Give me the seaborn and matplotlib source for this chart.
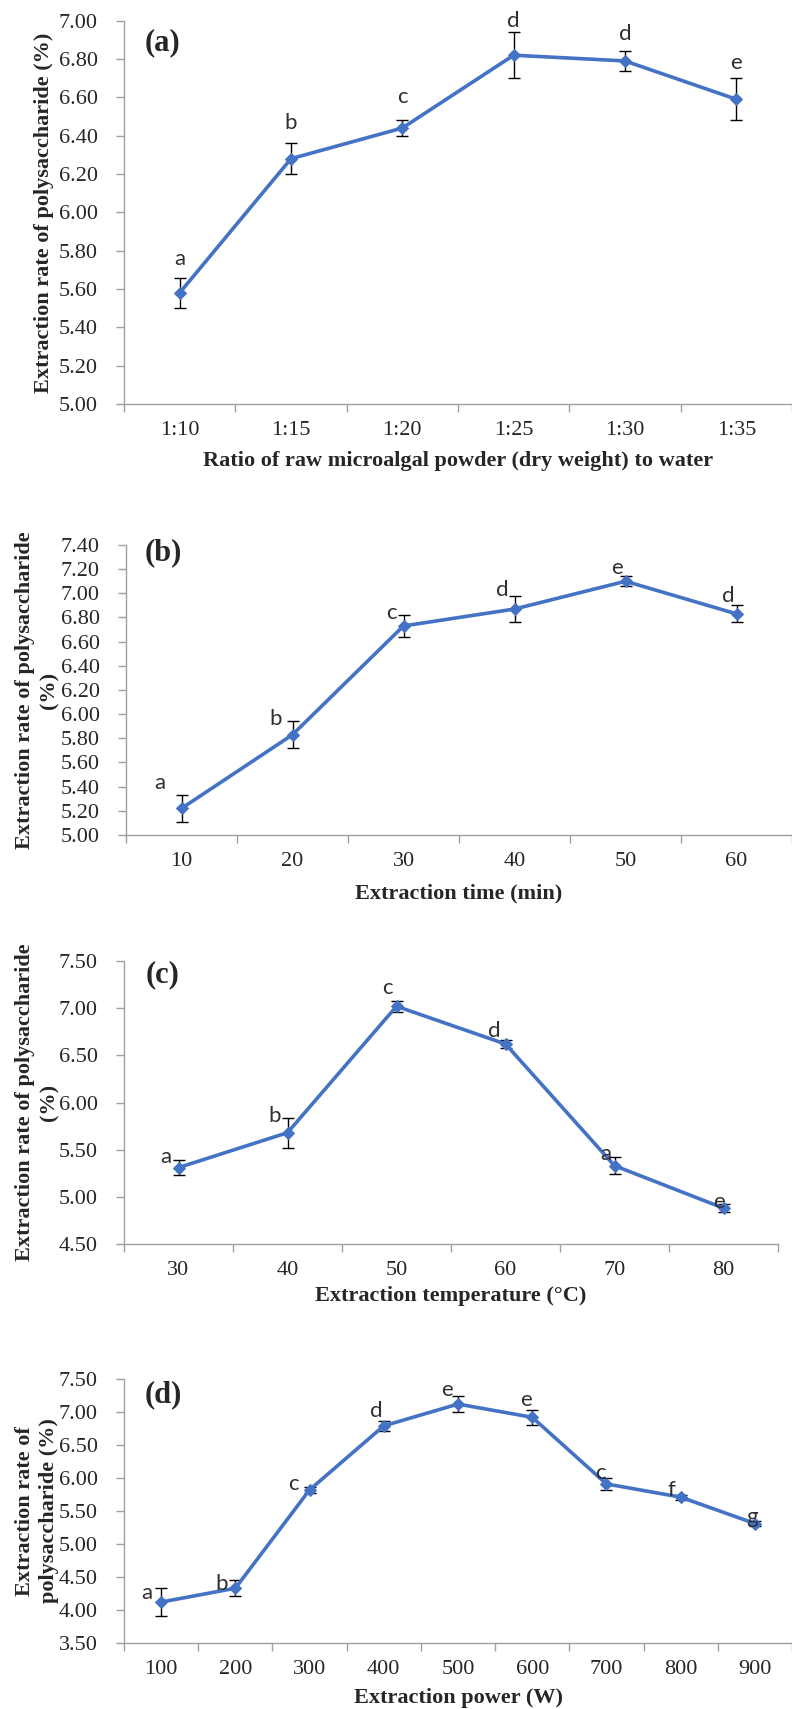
import numpy as np
import pandas as pd
import matplotlib
matplotlib.use("Agg")
import matplotlib.pyplot as plt
import seaborn as sns

# (a) ratio of raw microalgal powder to water
ratio_labels = ["1:10", "1:15", "1:20", "1:25", "1:30", "1:35"]
ratio_mean = [5.58, 6.28, 6.44, 6.82, 6.79, 6.59]
ratio_err = [0.08, 0.08, 0.04, 0.12, 0.05, 0.11]
ratio_sig = ["a", "b", "c", "d", "d", "e"]

# (b) extraction time
time_labels = ["10", "20", "30", "40", "50", "60"]
time_mean = [5.22, 5.83, 6.73, 6.87, 7.10, 6.83]
time_err = [0.11, 0.11, 0.09, 0.11, 0.04, 0.07]
time_sig = ["a", "b", "c", "d", "e", "d"]

# (c) extraction temperature
temp_labels = ["30", "40", "50", "60", "70", "80"]
temp_mean = [5.31, 5.68, 7.02, 6.62, 5.33, 4.88]
temp_err = [0.08, 0.16, 0.06, 0.04, 0.09, 0.04]
temp_sig = ["a", "b", "c", "d", "a", "e"]

# (d) extraction power
power_labels = ["100", "200", "300", "400", "500", "600", "700", "800", "900"]
power_mean = [4.12, 4.33, 5.82, 6.79, 7.12, 6.92, 5.91, 5.71, 5.31]
power_err = [0.21, 0.12, 0.04, 0.08, 0.12, 0.11, 0.09, 0.04, 0.04]
power_sig = ["a", "b", "c", "d", "e", "e", "c", "f", "g"]

W, H = 792, 1709
BLUE = "#4472C4"
GREY = "#A0A0A0"

sns.set_style("ticks")
plt.rcParams["font.family"] = ["Liberation Serif", "DejaVu Serif"]

panels = [
    dict(tag="(a)", labels=ratio_labels, mean=ratio_mean, err=ratio_err, sig=ratio_sig,
         ylim=(5.0, 7.0), step=0.2, box=(124, 20.7, 792, 404),
         ylabel="Extraction rate of polysaccharide (%)", ylab_x=44,
         xlabel="Ratio of raw microalgal powder (dry weight) to water", xlab_y=461,
         tag_xy=(163, 43),
         offs=[(0, 34), (0, 36), (0, 31), (0, 34), (0, 27), (0, 36)]),
    dict(tag="(b)", labels=time_labels, mean=time_mean, err=time_err, sig=time_sig,
         ylim=(5.0, 7.4), step=0.2, box=(126, 545, 792, 835),
         ylabel="Extraction rate of polysaccharide\n(%)", ylab_x=37,
         xlabel="Extraction time (min)", xlab_y=893,
         tag_xy=(163, 553),
         offs=[(-22, 25), (-17, 16), (-12, 13), (-12, 19), (-9, 13), (-8, 18)]),
    dict(tag="(c)", labels=temp_labels, mean=temp_mean, err=temp_err, sig=temp_sig,
         ylim=(4.5, 7.5), step=0.5, box=(124, 961, 778, 1244),
         ylabel="Extraction rate of polysaccharide\n(%)", ylab_x=37,
         xlabel="Extraction temperature (\u00b0C)", xlab_y=1296,
         tag_xy=(163, 975),
         offs=[(-13, 11), (-13, 17), (-9, 18), (-11, 13), (-9, 12), (-4, 6)]),
    dict(tag="(d)", labels=power_labels, mean=power_mean, err=power_err, sig=power_sig,
         ylim=(3.5, 7.5), step=0.5, box=(124, 1379, 792, 1643),
         ylabel="Extraction rate of\npolysaccharide (%)", ylab_x=37,
         xlabel="Extraction power (W)", xlab_y=1698,
         tag_xy=(163, 1395),
         offs=[(-14, 9), (-14, 4), (-16, 6), (-7, 15), (-11, 14), (-6, 17), (-6, 11), (-9, 7), (-3, 7)]),
]

fig = plt.figure(figsize=(W / 100, H / 100), dpi=100)

for p in panels:
    x0, y0, x1, y1 = p["box"]
    ax = fig.add_axes([x0 / W, 1 - y1 / H, (x1 - x0) / W, (y1 - y0) / H])
    n = len(p["labels"])
    df = pd.DataFrame({"pos": np.arange(n), "rate": p["mean"], "err": p["err"]})

    sns.lineplot(data=df, x="pos", y="rate", ax=ax, color=BLUE, lw=2.6,
                 marker="D", markersize=6.5, markeredgecolor=BLUE, zorder=3)
    ax.errorbar(df["pos"], df["rate"], yerr=df["err"], fmt="none", ecolor="black",
                elinewidth=1.0, capsize=4, capthick=1.0, zorder=2)

    # significance letters
    for i, (s, (dx, dy)) in enumerate(zip(p["sig"], p["offs"])):
        ax.annotate(s, (df["pos"][i], df["rate"][i]), xytext=(dx, dy),
                    textcoords="offset pixels", ha="center", va="center",
                    fontsize=16, family=["Lato", "DejaVu Sans"], color="#303030")

    ax.set_xlim(-0.5, n - 0.5)
    ax.set_ylim(*p["ylim"])
    ticks = np.arange(p["ylim"][0], p["ylim"][1] + 1e-9, p["step"])
    ax.set_yticks(ticks, [f"{t:.2f}" for t in ticks])
    ax.set_xticks(np.arange(-0.5, n), [""] * (n + 1))
    ax.set_xticks(np.arange(n), p["labels"], minor=True)
    ax.tick_params(axis="x", which="major", length=6, width=1, color=GREY, direction="out")
    ax.tick_params(axis="x", which="minor", length=0, pad=12, labelsize=16)
    ax.tick_params(axis="y", length=6, width=1, color=GREY, direction="out", pad=13, labelsize=16)

    sns.despine(ax=ax)
    for side in ("left", "bottom"):
        ax.spines[side].set_color(GREY)
        ax.spines[side].set_linewidth(1.0)

    ax.set_ylabel(p["ylabel"], fontsize=16, fontweight="bold", va="center", linespacing=1.3)
    ax.yaxis.set_label_coords((p["ylab_x"] - x0) / (x1 - x0), 0.5)
    ax.set_xlabel(p["xlabel"], fontsize=16, fontweight="bold", va="center")
    ax.xaxis.set_label_coords(0.5, (y1 - p["xlab_y"]) / (y1 - y0))

    fig.text(p["tag_xy"][0] / W, 1 - p["tag_xy"][1] / H, p["tag"], fontsize=22,
             fontweight="bold", ha="center", va="center")

fig.savefig("out.png", dpi=100)
